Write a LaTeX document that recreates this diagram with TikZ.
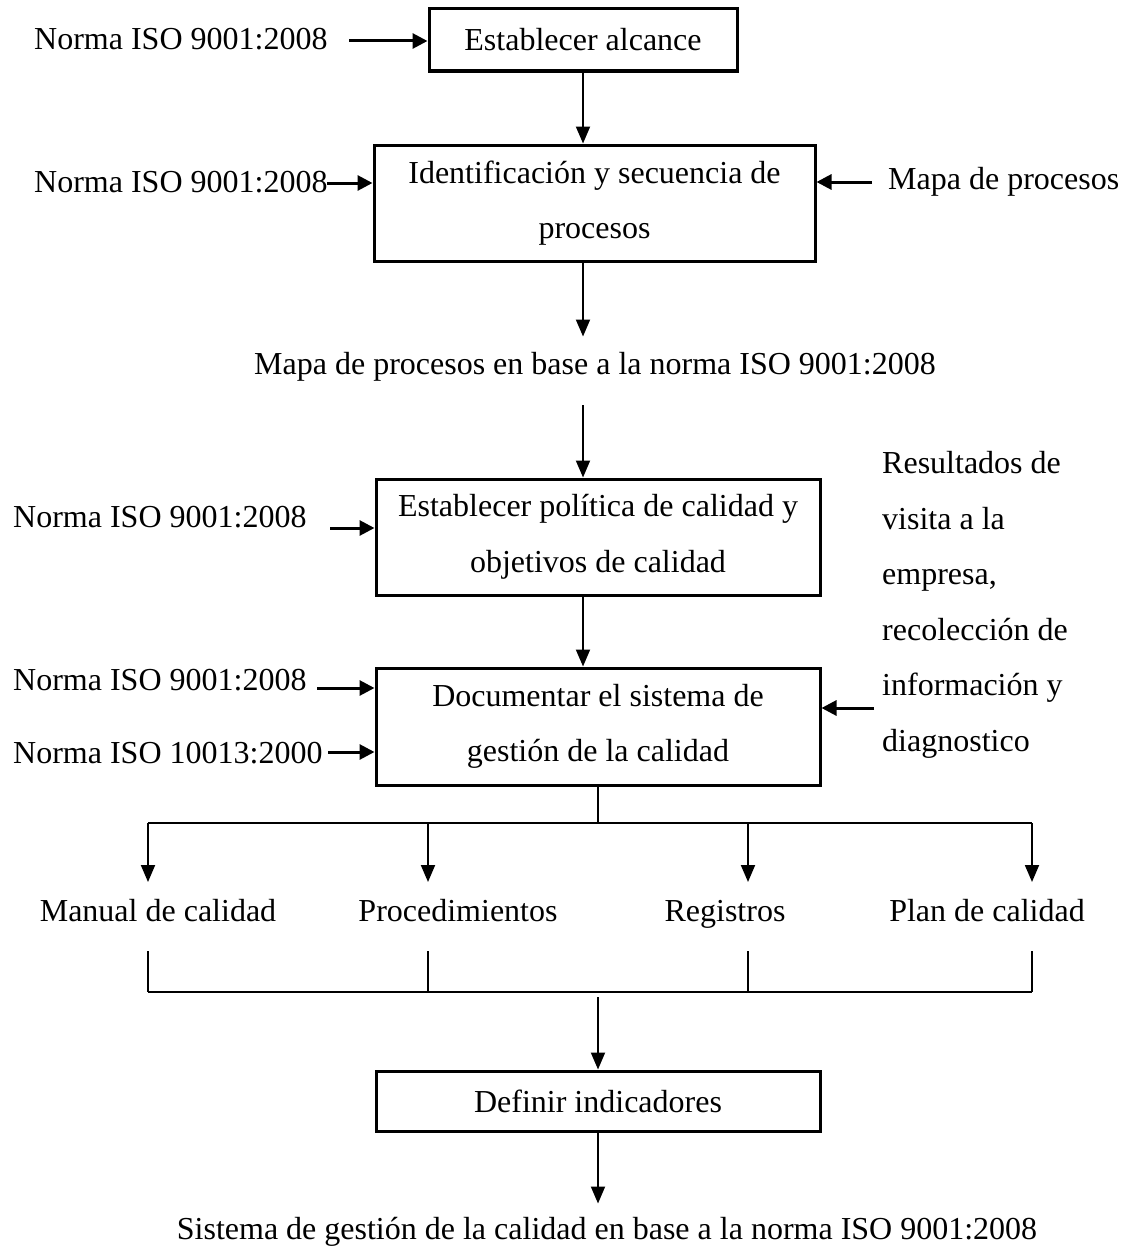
\documentclass[tikz,border=0pt]{standalone}
\usepackage{fontspec}
\setmainfont{Liberation Serif}
\usetikzlibrary{arrows.meta}

\begin{document}
\begin{tikzpicture}[x=1pt,y=-1pt,
  every node/.style={font=\fontsize{32}{55.5}\selectfont, inner sep=0pt},
  box/.style={draw, line width=3pt, align=center},
  thin/.style={line width=1.9pt},
  arr/.style={thin, -{Triangle[length=17pt,width=14pt]}},
  inarr/.style={line width=3pt, -{Triangle[length=15pt,width=15pt]}},
  bar/.style={line width=2.8pt}]
\useasboundingbox (0,0) rectangle (1126,1247);

% process boxes
\node[box, minimum width=308pt, minimum height=62pt]  (b1) at (583,40)    {Establecer alcance};
\node[box, minimum width=441pt, minimum height=116pt] (b2) at (594.5,203) {Identificación y secuencia de\\procesos};
\node[box, minimum width=444pt, minimum height=116pt] (b3) at (598,537)   {Establecer política de calidad y\\objetivos de calidad};
\node[box, minimum width=444pt, minimum height=117pt] (b4) at (598,726.5) {Documentar el sistema de\\gestión de la calidad};
\node[box, minimum width=444pt, minimum height=60pt]  (b5) at (598,1101)  {Definir indicadores};

% inputs and outputs
\node[anchor=west] (n1) at (34,39)  {Norma ISO 9001:2008};
\node[anchor=west] (n2) at (34,182) {Norma ISO 9001:2008};
\node[anchor=west] (mp) at (888,182) {Mapa de procesos};
\node (mapa) at (595,367) {Mapa de procesos en base a la norma ISO 9001:2008};
\node[anchor=west] (n3) at (13,517) {Norma ISO 9001:2008};
\node[anchor=west, align=left] (res) at (882,605)
  {Resultados de\\visita a la\\empresa,\\recolección de\\información y\\diagnostico};
\node[anchor=west] (n4) at (13,680) {Norma ISO 9001:2008};
\node[anchor=west] (n5) at (13,753) {Norma ISO 10013:2000};
\node[anchor=base] (o1) at (158,921) {Manual de calidad};
\node[anchor=base] (o2) at (458,921) {Procedimientos};
\node[anchor=base] (o3) at (725,921) {Registros};
\node[anchor=base] (o4) at (987,921) {Plan de calidad};
\node (fin) at (607,1232) {Sistema de gestión de la calidad en base a la norma ISO 9001:2008};

% arrow tails and junction points
\coordinate (t1) at (349,41);
\coordinate (t2) at (327,183);
\coordinate (t2r) at (872,182);
\coordinate (t3) at (330,528);
\coordinate (t4) at (317,688);
\coordinate (t5) at (328,752);
\coordinate (t4r) at (874,708);
\coordinate (m3) at (583,405);
\coordinate (d1) at (148,823);
\coordinate (d2) at (428,823);
\coordinate (d3) at (748,823);
\coordinate (d4) at (1032,823);
\coordinate (e1) at (148,951);
\coordinate (e2) at (428,951);
\coordinate (e3) at (748,951);
\coordinate (e4) at (1032,951);
\coordinate (k) at (598,997);

% horizontal inputs
\draw[inarr] (t1) -- (t1 -| b1.west);
\draw[inarr] (t2) -- (t2 -| b2.west);
\draw[inarr] (t2r) -- (t2r -| b2.east);
\draw[inarr] (t3) -- (t3 -| b3.west);
\draw[inarr] (t4) -- (t4 -| b4.west);
\draw[inarr] (t5) -- (t5 -| b4.west);
\draw[inarr] (t4r) -- (t4r -| b4.east);

% main flow
\draw[arr] (b1.south) -- (b1.south |- b2.north);
\draw[arr] (b2.south -| b1.south) -- ++(0,74);
\draw[arr] (m3) -- (m3 |- b3.north);
\draw[arr] (b3.south -| b1.south) -- (b4.north -| b1.south);

% branching into the documents
\draw[thin] (b4.south) -- (b4.south |- d1);
\draw[bar] (d1) -- (d4);
\foreach \d in {d1,d2,d3,d4} \draw[arr] (\d) -- ++(0,59);

% joining the documents
\draw[thin] (e1) -- (e1 |- 0,992);
\draw[thin] (e2) -- (e2 |- 0,992);
\draw[thin] (e3) -- (e3 |- 0,992);
\draw[thin] (e4) -- (e4 |- 0,992);
\draw[bar] (e1 |- 0,992) -- (e4 |- 0,992);
\draw[arr] (k) -- (b5.north);
\draw[arr] (b5.south) -- ++(0,71);
\end{tikzpicture}
\end{document}
